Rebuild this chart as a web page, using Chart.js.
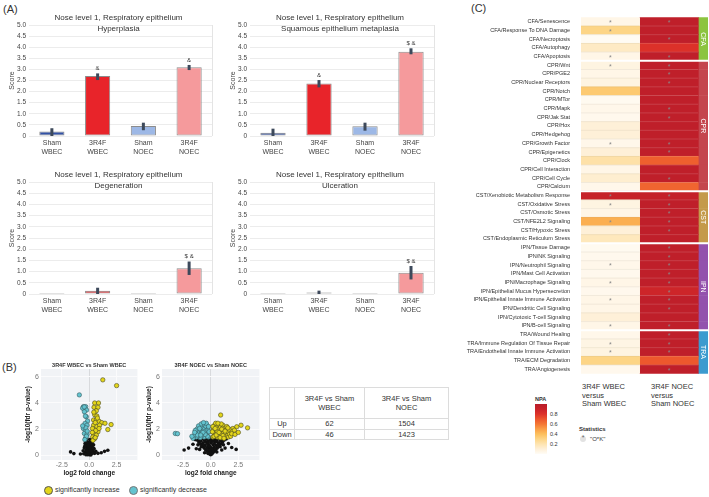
<!DOCTYPE html>
<html>
<head>
<meta charset="utf-8">
<script src="https://cdn.jsdelivr.net/npm/chart.js@4.4.0/dist/chart.umd.min.js"></script>
<style>
  body { margin: 0; width: 709px; height: 497px; background: #fff; position: relative; overflow: hidden;
         font-family: "Liberation Sans", Arial, sans-serif; color: #333; }
  canvas { position: absolute; }
  .t { position: absolute; white-space: nowrap; }
  #degTable { position: absolute; left: 269px; top: 387px; border-collapse: collapse; font-size: 7.5px; color: #333; }
  #degTable td { border: 1px solid #dcdcdc; text-align: center; padding: 0; line-height: 9.5px; }
</style>
</head>
<body>
<div class="t" style="left:3px;top:3px;font-size:11px">(A)</div>
<div class="t" style="left:2px;top:361px;font-size:11px">(B)</div>
<div class="t" style="left:471px;top:2px;font-size:11px">(C)</div>

<canvas id="bar1" width="216" height="148" style="left:0px;top:12px"></canvas>
<canvas id="bar2" width="217" height="148" style="left:221px;top:12px"></canvas>
<canvas id="bar3" width="216" height="148" style="left:0px;top:170px"></canvas>
<canvas id="bar4" width="217" height="148" style="left:221px;top:170px"></canvas>

<canvas id="volc1" width="118" height="119" style="left:24px;top:358px"></canvas>
<canvas id="volc2" width="119" height="119" style="left:145px;top:358px"></canvas>

<!-- legend of panel B -->
<div class="t" style="left:44px;top:486px;width:7px;height:7px;border-radius:50%;background:#e3d51b;border:1px solid #555"></div>
<div class="t" style="left:55px;top:485px;font-size:7px;line-height:10px">significantly increase</div>
<div class="t" style="left:129px;top:486px;width:7px;height:7px;border-radius:50%;background:#63c3cf;border:1px solid #777"></div>
<div class="t" style="left:140px;top:485px;font-size:7px;line-height:10px">significantly decrease</div>

<table id="degTable"></table>

<canvas id="heat" width="243" height="370" style="left:466px;top:10px"></canvas>

<div class="t" style="left:582px;top:383px;font-size:7.5px;line-height:8.7px">3R4F WBEC<br>versus<br>Sham WBEC</div>
<div class="t" style="left:651px;top:383px;font-size:7.5px;line-height:8.7px">3R4F NOEC<br>versus<br>Sham NOEC</div>

<div class="t" style="left:535px;top:396px;font-size:5.5px;font-weight:bold">NPA</div>
<div id="cbar" class="t" style="left:535px;top:404px;width:12px;height:50px"></div>
<div class="t" style="left:550px;top:411px;font-size:5.5px">0.8</div>
<div class="t" style="left:550px;top:421px;font-size:5.5px">0.6</div>
<div class="t" style="left:550px;top:431px;font-size:5.5px">0.4</div>
<div class="t" style="left:550px;top:441px;font-size:5.5px">0.2</div>

<div class="t" style="left:579px;top:426px;font-size:6px;font-weight:bold">Statistics</div>
<div class="t" style="left:580px;top:436px;width:6px;height:6px;border-radius:50%;background:#e2e2e2"></div>
<div class="t" style="left:580px;top:434px;width:6px;text-align:center;font-size:7px;color:#666">*</div>
<div class="t" style="left:590px;top:436px;font-size:6px">"O*K"</div>

<script>
// ---- panel A: histopathology scores ----
const groups = [['Sham', 'WBEC'], ['3R4F', 'WBEC'], ['Sham', 'NOEC'], ['3R4F', 'NOEC']];
const barColors = ['#3352a6', '#e8242a', '#9db8e6', '#f59a9c'];

const hypScore = [0.2, 2.7, 0.45, 3.1];
const hypLow = [0.0, 2.52, 0.26, 2.97];
const hypHigh = [0.35, 2.82, 0.6, 3.2];
const hypMarks = ['', '&', '', '&'];

const sqmScore = [0.15, 2.37, 0.44, 3.8];
const sqmLow = [0.0, 2.19, 0.24, 3.68];
const sqmHigh = [0.33, 2.52, 0.6, 3.95];
const sqmMarks = ['', '&', '', '$ &'];

const degScore = [0, 0.15, 0, 1.15];
const degLow = [0, 0.0, 0, 0.85];
const degHigh = [0, 0.28, 0, 1.45];
const degMarks = ['', '', '', '$ &'];

const ulcScore = [0, 0.07, 0, 0.95];
const ulcLow = [0, 0.0, 0, 0.65];
const ulcHigh = [0, 0.15, 0, 1.25];
const ulcMarks = ['', '', '', '$ &'];

// ---- panel B: volcano plots (log2 fold change, -log10 fdr p) ----
const upWBEC = [[1.24,5.77],[2.5,5.33],[0.5,4.0],[0.85,4.0],[0.44,3.67],[0.8,3.67],[0.65,3.4],[0.5,3.1],[0.7,3.0],
  [0.4,2.7],[0.65,2.7],[0.9,2.6],[1.15,2.5],[1.44,2.45],[2.0,2.35],[1.7,1.97],[0.4,2.3],[0.7,2.2],[0.44,1.92],
  [0.8,1.8],[0.38,1.67],[0.65,1.54],[0.32,1.4],[0.5,1.28],[0.95,2.3],[0.3,2.05],[0.55,2.5],[0.75,2.85],[0.35,1.15],
  [0.6,1.9],[0.28,1.75],[0.42,3.3],[0.9,2.05],[0.55,1.35]];
const downWBEC = [[-0.9,4.62],[-0.53,3.72],[-0.32,3.72],[-0.6,3.6],[-0.24,3.46],[-0.44,3.33],[-0.26,2.95],[-0.15,2.62],
  [-0.38,2.44],[-0.2,2.3],[-0.53,2.05],[-0.32,1.92],[-0.44,1.67],[-0.2,1.6],[-0.32,1.33],[-0.45,3.7],[-0.3,2.1],
  [-0.25,1.45],[-0.4,1.2],[-0.18,1.85],[-0.6,2.25],[-0.35,3.0]];
const nsWBEC = [[0,0.05],[0.1,0.1],[-0.1,0.12],[0.2,0.2],[-0.2,0.18],[0.05,0.3],[-0.05,0.35],[0.25,0.4],[-0.25,0.42],
  [0.15,0.55],[-0.15,0.5],[0.3,0.6],[-0.3,0.65],[0,0.7],[0.2,0.8],[-0.2,0.85],[0.1,0.95],[-0.1,1.0],[0.28,1.05],
  [-0.28,1.1],[0.05,1.2],[-0.05,0.15],[0.35,0.3],[-0.35,0.25],[0.12,0.45],[-0.12,0.6],[0.4,0.8],[-0.38,0.9],
  [0.22,1.15],[-0.22,1.25],[0.15,0.02],[-0.15,0.05],[0.5,0.15],[-0.5,0.12],[0.6,0.3],[-0.55,0.35],[0.45,0.5],
  [-0.45,0.55],[0.08,0.85],[-0.08,0.4],[1.4,0.3],[1.7,0.38],[1.1,0.2],[-1.7,0.26],[-1.4,0.13],[0.8,0.15],
  [-0.8,0.1],[0.33,1.3],[-0.33,1.38],[0.18,0.65],[0.05,0.5],[-0.02,0.9],[0.12,1.05],[-0.18,0.3],[0.3,0.15],
  [-0.3,0.05],[0.02,0.62],[-0.1,0.75],[0.15,0.33],[0.38,0.55],[-0.4,0.7],[0.25,0.92],[-0.25,0.98]];

const upNOEC = [[0.9,3.08],[2.74,2.3],[2.35,2.18],[3.33,2.1],[2.0,2.05],[1.85,1.8],[2.14,1.92],
  [0.2,1.4],[0.3,1.7],[0.25,2.0],[0.35,2.3],[0.4,1.5],[0.5,1.9],[0.55,2.2],[0.6,1.4],[0.65,1.65],[0.7,2.0],
  [0.75,2.35],[0.8,1.5],[0.85,1.8],[0.9,2.15],[0.95,1.35],[1.0,1.6],[1.05,1.95],[1.1,2.3],[1.15,1.45],[1.2,1.75],
  [1.25,2.05],[1.3,1.4],[1.35,1.65],[1.4,1.95],[1.45,2.2],[1.5,1.5],[1.55,1.8],[1.6,1.4],[1.65,2.0],[1.7,1.6],
  [1.8,1.45],[1.9,1.65],[0.15,1.8],[0.45,2.45],[0.3,1.45],[0.6,1.8],[0.95,2.4],[1.1,1.5],[0.2,2.2],[0.5,1.55],
  [0.75,1.75],[1.0,2.0],[1.3,1.85],[0.4,2.05],[0.65,2.45],[0.85,1.35],[1.2,1.3],[1.55,2.1],[2.2,1.6],[2.5,1.75]];
const downNOEC = [[-3.2,1.67],[-3.0,1.65],[-0.2,1.4],[-0.3,1.7],[-0.25,2.0],[-0.35,2.3],[-0.45,1.5],[-0.5,1.9],
  [-0.55,2.2],[-0.6,1.4],[-0.65,1.65],[-0.7,2.0],[-0.75,2.35],[-0.8,1.5],[-0.85,1.8],[-0.9,2.15],[-0.95,1.35],
  [-1.0,1.6],[-1.05,1.95],[-1.1,2.25],[-1.15,1.45],[-1.2,1.75],[-1.25,2.0],[-1.3,1.4],[-1.35,1.65],[-1.4,1.9],
  [-1.5,1.5],[-1.6,1.3],[-0.15,1.8],[-0.4,2.45],[-0.6,1.8],[-0.85,2.4],[-1.0,2.05],[-1.2,1.55],[-0.3,1.45],
  [-0.5,1.6],[-0.7,1.75],[-1.45,1.75],[-1.7,1.45],[-0.9,1.55],[-0.2,2.2],[-0.65,2.5]];
const nsNOEC = [[0,0.05],[0.1,0.1],[-0.1,0.1],[0.2,0.2],[-0.2,0.2],[0.3,0.3],[-0.3,0.3],[0.45,0.4],[-0.45,0.4],
  [0.6,0.55],[-0.6,0.55],[0.75,0.7],[-0.75,0.7],[0.9,0.85],[-0.9,0.85],[1.05,1.0],[-1.05,1.0],[1.2,1.15],
  [-1.2,1.15],[0,0.3],[0.15,0.45],[-0.15,0.45],[0.3,0.6],[-0.3,0.6],[0.5,0.75],[-0.5,0.75],[0.7,0.95],[-0.7,0.95],
  [0.9,1.1],[-0.9,1.1],[0,0.6],[0.2,0.8],[-0.2,0.8],[0.4,1.0],[-0.4,1.0],[0.6,1.2],[-0.6,1.2],[0,0.95],[0.15,1.15],
  [-0.15,1.15],[0.35,1.25],[-0.35,1.25],[0.05,1.3],[1.4,1.25],[-1.4,1.2],[1.6,0.9],[-1.6,0.85],[1.9,0.6],
  [-2.0,0.55],[-2.4,0.4],[2.3,0.45],[-1.3,0.5],[1.3,0.55],[0.1,0.2],[-0.05,0.4],[0.25,0.35],[-0.25,0.15],
  [0.55,0.25],[-0.55,0.2],[1.0,0.4],[-1.0,0.45],[0.1,0.5],[-0.1,0.7],[0.3,0.85],[-0.3,0.9],[0.5,1.05],
  [-0.5,1.05],[0.8,1.25],[-0.8,1.25],[1.0,1.2],[-1.0,1.2],[0.65,0.8],[-0.65,0.8],[0.4,0.5],[-0.4,0.5],
  [0.1,1.05],[-0.1,1.25],[0.25,1.1],[-0.25,1.05],[0.85,0.65],[-0.85,0.65],[1.15,0.8],[-1.15,0.8]];

// ---- DEG counts table ----
const contrasts = [['3R4F vs Sham', 'WBEC'], ['3R4F vs Sham', 'NOEC']];
const upDEG = [62, 1504];
const downDEG = [46, 1423];

// ---- panel C: network perturbation amplitude ----
const pathways = [
  'CFA/Senescence', 'CFA/Response To DNA Damage', 'CFA/Necroptosis', 'CFA/Autophagy', 'CFA/Apoptosis',
  'CPR/Wnt', 'CPR/PGE2', 'CPR/Nuclear Receptors', 'CPR/Notch', 'CPR/MTor', 'CPR/Mapk', 'CPR/Jak Stat', 'CPR/Hox',
  'CPR/Hedgehog', 'CPR/Growth Factor', 'CPR/Epigenetics', 'CPR/Clock', 'CPR/Cell Interaction', 'CPR/Cell Cycle',
  'CPR/Calcium',
  'CST/Xenobiotic Metabolism Response', 'CST/Oxidative Stress', 'CST/Osmotic Stress', 'CST/NFE2L2 Signaling',
  'CST/Hypoxic Stress', 'CST/Endoplasmic Reticulum Stress',
  'IPN/Tissue Damage', 'IPN/NK Signaling', 'IPN/Neutrophil Signaling', 'IPN/Mast Cell Activation',
  'IPN/Macrophage Signaling', 'IPN/Epithelial Mucus Hypersecretion', 'IPN/Epithelial Innate Immune Activation',
  'IPN/Dendritic Cell Signaling', 'IPN/Cytotoxic T-cell Signaling', 'IPN/B-cell Signaling',
  'TRA/Wound Healing', 'TRA/Immune Regulation Of Tissue Repair', 'TRA/Endothelial Innate Immune Activation',
  'TRA/ECM Degradation', 'TRA/Angiogenesis'];
const npaWBEC = [0.05, 0.3, 0.01, 0.15, 0.05,
  0.07, 0.05, 0.07, 0.35, 0.02, 0.04, 0.03, 0.1, 0.1, 0.04, 0.1, 0.22, 0.05, 0.12, 0.04,
  0.92, 0.07, 0.05, 0.45, 0.1, 0.17,
  0.02, 0.03, 0.04, 0.03, 0.05, 0.03, 0.05, 0.05, 0.1, 0.05,
  0.04, 0.06, 0.07, 0.3, 0.03];
const npaNOEC = [0.96, 0.96, 0.96, 0.8, 0.96,
  0.96, 0.96, 0.96, 0.96, 0.96, 0.96, 0.96, 0.96, 0.96, 0.96, 0.96, 0.67, 0.96, 0.96, 0.65,
  0.93, 0.96, 0.96, 0.96, 0.96, 0.96,
  0.96, 0.96, 0.96, 0.96, 0.96, 0.88, 0.96, 0.96, 0.96, 0.96,
  0.96, 0.96, 0.96, 0.69, 0.96];
const starWBEC = [1, 1, 0, 0, 1,  1, 0, 0, 0, 0, 0, 0, 0, 0, 1, 0, 0, 0, 0, 0,  1, 1, 0, 1, 0, 0,
  0, 0, 1, 0, 1, 0, 1, 0, 0, 1,  0, 1, 1, 0, 0];
const starNOEC = [1, 0, 1, 0, 1,  1, 1, 1, 0, 0, 1, 1, 0, 0, 1, 1, 0, 0, 1, 0,  1, 1, 1, 1, 1, 0,
  1, 1, 1, 1, 1, 1, 1, 1, 0, 1,  1, 1, 1, 0, 1];
const groupColors = { CFA: '#8cc43f', CPR: '#c4464e', CST: '#c49a4b', IPN: '#9352ad', TRA: '#3c9bcf' };

const npaStops = [[0, '#fffcf6'], [0.1, '#fef0d8'], [0.2, '#fee4b0'], [0.3, '#fdd586'], [0.4, '#fcbf5c'],
  [0.5, '#fa9e46'], [0.6, '#f47634'], [0.7, '#ec552c'], [0.8, '#dc3129'], [0.9, '#c92229'], [1, '#b81d2a']];

Chart.defaults.font.family = '"Liberation Sans", Arial, sans-serif';
Chart.defaults.color = '#444';

function hex(c) { return [1, 3, 5].map(i => parseInt(c.substr(i, 2), 16)); }
function npaColor(v) {
  for (let i = 1; i < npaStops.length; i++) {
    if (v <= npaStops[i][0]) {
      const [a, ca] = npaStops[i - 1], [b, cb] = npaStops[i];
      const t = (v - a) / (b - a), A = hex(ca), B = hex(cb);
      return 'rgb(' + A.map((x, k) => Math.round(x + (B[k] - x) * t)).join(',') + ')';
    }
  }
  return npaStops[npaStops.length - 1][1];
}

function barChart(id, padTop, titleLines, score, low, high, marks) {
  const deco = {
    id: 'deco',
    afterDatasetsDraw(chart) {
      const { ctx, chartArea: a, scales: { x, y } } = chart;
      ctx.save();
      ctx.strokeStyle = '#e4e4e4'; ctx.lineWidth = 1;
      ctx.beginPath(); ctx.moveTo(a.right + 0.5, a.top); ctx.lineTo(a.right + 0.5, a.bottom); ctx.stroke();
      ctx.strokeStyle = '#3d495b'; ctx.lineWidth = 3;
      ctx.fillStyle = '#333'; ctx.font = '6px "Liberation Sans", Arial'; ctx.textAlign = 'center';
      ctx.textBaseline = 'bottom';
      score.forEach((s, i) => {
        const px = x.getPixelForValue(i);
        if (high[i] > low[i]) {
          ctx.beginPath(); ctx.moveTo(px, y.getPixelForValue(low[i])); ctx.lineTo(px, y.getPixelForValue(high[i])); ctx.stroke();
        }
        if (marks[i]) ctx.fillText(marks[i], px, y.getPixelForValue(high[i]) - 2);
      });
      ctx.font = '8px "Liberation Sans", Arial'; ctx.fillStyle = '#333'; ctx.textBaseline = 'middle';
      const cx = (a.left + a.right) / 2 - 2;
      ctx.fillText(titleLines[0], cx, padTop - 7);
      ctx.fillText(titleLines[1], cx, padTop + 4);
      ctx.restore();
    }
  };
  new Chart(document.getElementById(id), {
    type: 'bar',
    data: {
      labels: groups,
      datasets: [{
        data: score, backgroundColor: barColors, borderColor: '#8c8c8c', borderWidth: 1,
        borderSkipped: false, barPercentage: 0.55, categoryPercentage: 1, minBarLength: 1
      }]
    },
    options: {
      responsive: false, animation: false, events: [],
      layout: { padding: { top: padTop, right: 4, left: 0, bottom: 0 } },
      plugins: { legend: { display: false }, tooltip: { enabled: false } },
      scales: {
        x: {
          grid: { display: false, drawTicks: false }, border: { display: false },
          ticks: { font: { size: 7 }, color: '#444', padding: 3, maxRotation: 0 },
          afterFit: s => { s.height = 24; }
        },
        y: {
          min: 0, max: 5,
          ticks: { stepSize: 0.5, font: { size: 6.5 }, color: '#444', padding: 3,
                   callback: v => v === 0 ? '0' : v.toFixed(1) },
          grid: { color: '#ececec', drawTicks: false }, border: { display: false },
          title: { display: true, text: 'Score', font: { size: 7 }, color: '#444', padding: { top: 8, bottom: 0 } },
          afterFit: s => { s.width = 29; }
        }
      }
    },
    plugins: [deco]
  });
}

barChart('bar1', 13, ['Nose level 1, Respiratory epithelium', 'Hyperplasia'], hypScore, hypLow, hypHigh, hypMarks);
barChart('bar2', 13, ['Nose level 1, Respiratory epithelium', 'Squamous epithelium metaplasia'], sqmScore, sqmLow, sqmHigh, sqmMarks);
barChart('bar3', 12, ['Nose level 1, Respiratory epithelium', 'Degeneration'], degScore, degLow, degHigh, degMarks);
barChart('bar4', 12, ['Nose level 1, Respiratory epithelium', 'Ulceration'], ulcScore, ulcLow, ulcHigh, ulcMarks);

function toXY(list) { return list.map(p => ({ x: p[0], y: p[1] })); }

function volcano(id, title, up, down, ns) {
  const bg = {
    id: 'bg',
    beforeDraw(chart) {
      const { ctx, chartArea: a } = chart;
      ctx.save(); ctx.fillStyle = '#f1f3f6'; ctx.fillRect(a.left, a.top, a.width, a.height); ctx.restore();
    },
    afterDraw(chart) {
      const { ctx, chartArea: a } = chart;
      ctx.save();
      ctx.font = 'bold 5.5px "Liberation Sans", Arial'; ctx.fillStyle = '#333';
      ctx.textAlign = 'center'; ctx.textBaseline = 'middle';
      ctx.fillText(title, (a.left + a.right) / 2, a.top - 4);
      ctx.restore();
    }
  };
  new Chart(document.getElementById(id), {
    type: 'scatter',
    data: {
      datasets: [
        { data: toXY(up), backgroundColor: '#e3d51b', borderColor: '#4a4a20', borderWidth: 0.6, pointRadius: 2.2 },
        { data: toXY(down), backgroundColor: '#63c3cf', borderColor: '#345a60', borderWidth: 0.6, pointRadius: 2.2 },
        { data: toXY(ns), backgroundColor: '#111', borderWidth: 0, pointRadius: 1.8 }
      ]
    },
    options: {
      responsive: false, animation: false, events: [],
      layout: { padding: { top: 11, right: 4, left: 0, bottom: 0 } },
      plugins: { legend: { display: false }, tooltip: { enabled: false } },
      scales: {
        x: {
          min: -4.4, max: 4.4,
          afterBuildTicks: s => { s.ticks = [-2.5, 0, 2.5].map(v => ({ value: v })); },
          ticks: { callback: v => v.toFixed(1), font: { size: 7 }, color: '#777', padding: 1, maxRotation: 0 },
          grid: { color: c => (c.tick && c.tick.value === 0) ? '#d8dadd' : '#fbfbfc', drawTicks: false },
          border: { display: false },
          title: { display: true, text: 'log2 fold change', font: { size: 6.5, weight: 'bold' }, color: '#222', padding: 0 },
          afterFit: s => { s.height = 17; }
        },
        y: {
          min: -0.36, max: 6.6,
          afterBuildTicks: s => { s.ticks = [0, 2, 4, 6].map(v => ({ value: v })); },
          ticks: { font: { size: 7 }, color: '#777', padding: 2 },
          grid: { color: '#fbfbfc', drawTicks: false }, border: { display: false },
          title: { display: true, text: '-log10(fdr p-value)', font: { size: 6.5, weight: 'bold' }, color: '#222', padding: 0 },
          afterFit: s => { s.width = 17; }
        }
      }
    },
    plugins: [bg]
  });
}

volcano('volc1', '3R4F WBEC vs Sham WBEC', upWBEC, downWBEC, nsWBEC);
volcano('volc2', '3R4F NOEC vs Sham NOEC', upNOEC, downNOEC, nsNOEC);

// table of DEG counts
const tbl = document.getElementById('degTable');
let html = '<tr style="height:31px"><td style="width:24px"></td>' +
  contrasts.map((c, i) => `<td style="width:${i ? 83 : 69}px">${c[0]}<br>${c[1]}</td>`).join('') + '</tr>';
html += '<tr style="height:10px"><td>Up</td>' + upDEG.map(v => `<td>${v}</td>`).join('') + '</tr>';
html += '<tr style="height:10px"><td>Down</td>' + downDEG.map(v => `<td>${v}</td>`).join('') + '</tr>';
tbl.innerHTML = html;

// heatmap
const rowGroup = pathways.map(p => p.split('/')[0]);
const heatDeco = {
  id: 'heatDeco',
  afterDatasetsDraw(chart) {
    const { ctx, chartArea: a, scales: { x, y } } = chart;
    ctx.save();
    const x1 = x.getPixelForValue(1), x2 = x.getPixelForValue(2);
    for (let i = 1; i < pathways.length; i++) {
      const yy = (y.getPixelForValue(i - 1) + y.getPixelForValue(i)) / 2;
      if (rowGroup[i] !== rowGroup[i - 1]) {
        ctx.strokeStyle = '#ffffff'; ctx.lineWidth = 2;
        ctx.beginPath(); ctx.moveTo(a.left, yy); ctx.lineTo(a.right, yy); ctx.stroke();
      } else {
        ctx.lineWidth = 0.6;
        ctx.strokeStyle = 'rgba(170,160,140,0.25)';
        ctx.beginPath(); ctx.moveTo(a.left, yy); ctx.lineTo(x1, yy); ctx.stroke();
        ctx.strokeStyle = 'rgba(255,255,255,0.25)';
        ctx.beginPath(); ctx.moveTo(x1, yy); ctx.lineTo(x2, yy); ctx.stroke();
      }
    }
    ctx.font = '7px "Liberation Sans", Arial'; ctx.textAlign = 'center'; ctx.textBaseline = 'middle';
    ctx.fillStyle = '#8a8a8a';
    pathways.forEach((p, i) => {
      const yy = y.getPixelForValue(i) + 1.5;
      if (starWBEC[i]) ctx.fillText('*', x.getPixelForValue(0.5), yy);
      if (starNOEC[i]) ctx.fillText('*', x.getPixelForValue(1.5), yy);
    });
    // group names in the side strip
    ctx.fillStyle = '#ffffff'; ctx.font = '7px "Liberation Sans", Arial';
    const xs = (x2 + a.right) / 2;
    Object.keys(groupColors).forEach(g => {
      const first = rowGroup.indexOf(g), last = rowGroup.lastIndexOf(g);
      const ym = (y.getPixelForValue(first) + y.getPixelForValue(last)) / 2;
      ctx.save(); ctx.translate(xs, ym); ctx.rotate(Math.PI / 2); ctx.fillText(g, 0, 0); ctx.restore();
    });
    ctx.restore();
  }
};

new Chart(document.getElementById('heat'), {
  type: 'bar',
  data: {
    labels: pathways,
    datasets: [
      { data: pathways.map(() => [0, 1]), backgroundColor: npaWBEC.map(npaColor) },
      { data: pathways.map(() => [1, 2]), backgroundColor: npaNOEC.map(npaColor) },
      { data: pathways.map(() => [2, 2.165]), backgroundColor: rowGroup.map(g => groupColors[g]) }
    ].map(d => Object.assign(d, { grouped: false, barPercentage: 1, categoryPercentage: 1, borderWidth: 0 }))
  },
  options: {
    indexAxis: 'y', responsive: false, animation: false, events: [],
    layout: { padding: { top: 7.3, right: 1, left: 0, bottom: 2 } },
    plugins: { legend: { display: false }, tooltip: { enabled: false } },
    scales: {
      x: { display: false, min: 0, max: 2.165 },
      y: {
        grid: { display: false }, border: { display: false },
        ticks: { autoSkip: false, font: { size: 5.5 }, color: '#333', padding: 3 },
        afterFit: s => { s.width = 115; }
      }
    }
  },
  plugins: [heatDeco]
});

// NPA colour bar
document.getElementById('cbar').style.background =
  'linear-gradient(to top,' + npaStops.map(s => `${s[1]} ${s[0] * 100}%`).join(',') + ')';
</script>
</body>
</html>
